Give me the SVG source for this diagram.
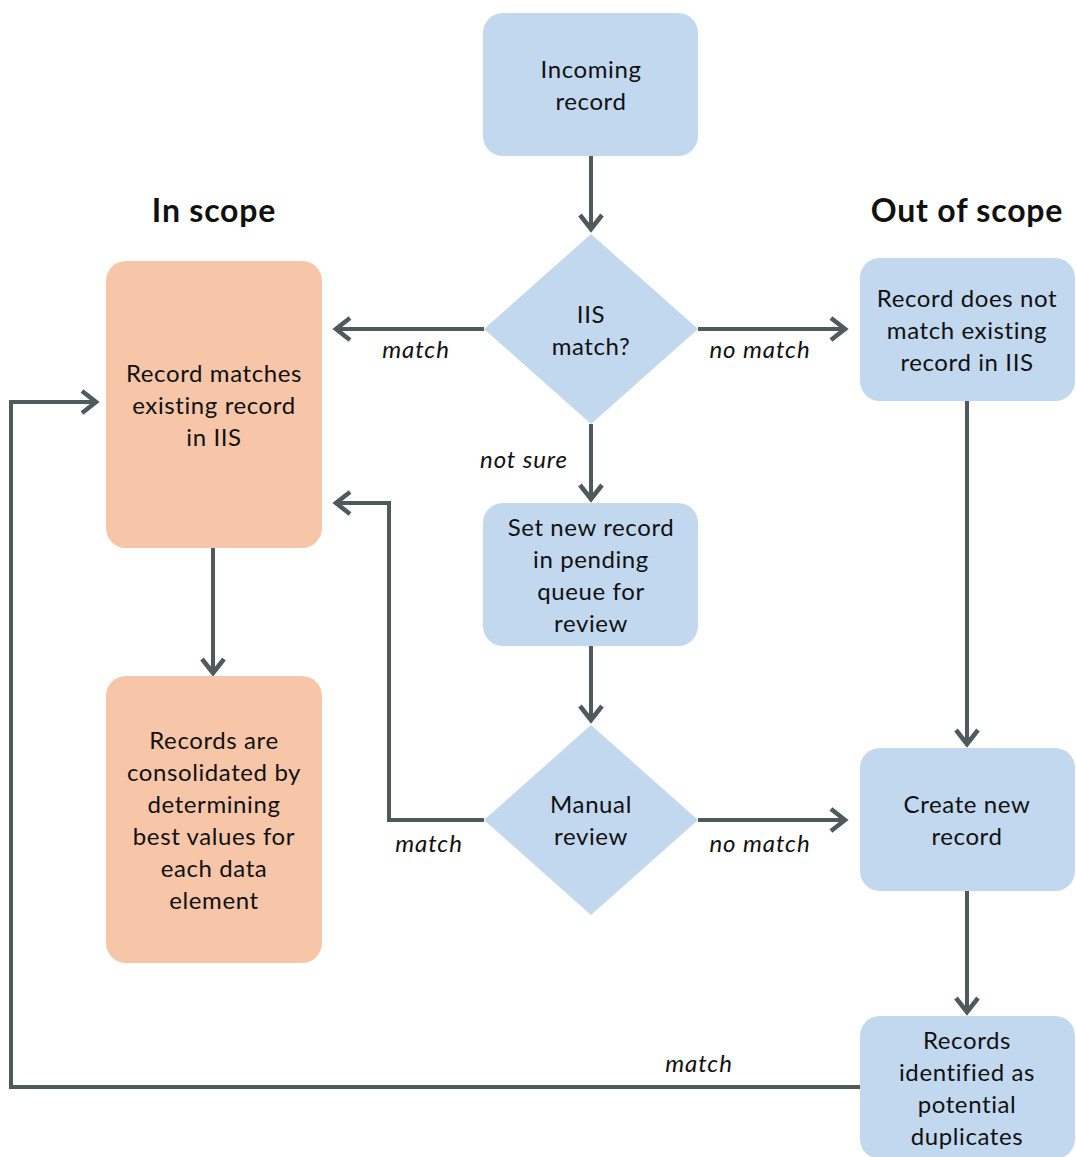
<svg xmlns="http://www.w3.org/2000/svg" width="1076" height="1157" viewBox="0 0 1076 1157">
<style>
.blue{fill:#C2D8EF}
.orange{fill:#F7C6A9}
.t{font-family:Lato,"Noto Sans",sans-serif;font-size:24px;letter-spacing:0.6px;fill:#111;text-anchor:middle}
.h{font-family:Lato,"Noto Sans",sans-serif;font-size:32px;letter-spacing:0.8px;font-weight:bold;fill:#111;text-anchor:middle}
.l{font-family:Lato,"Noto Sans",sans-serif;font-size:24px;letter-spacing:0.9px;font-style:italic;fill:#111;text-anchor:middle}
.c{fill:none;stroke:#4F5A5A;stroke-width:4;marker-end:url(#ah)}
</style>
<defs>
<marker id="ah" markerUnits="userSpaceOnUse" markerWidth="30" markerHeight="30" viewBox="-20 -15 24 30" refX="0" refY="0" orient="auto">
<path d="M-14,-11 L0,0 L-14,11" fill="none" stroke="#4F5A5A" stroke-width="4.5"/>
</marker>
</defs>
<rect width="1076" height="1157" fill="#fff"/>
<text class="h" x="214" y="222">In scope</text>
<text class="h" x="967" y="222">Out of scope</text>
<g id="connectors">
<path class="c" d="M591,156 V229"/>
<path class="c" d="M484,329 H336"/>
<path class="c" d="M698,329 H845"/>
<path class="c" d="M591,424 V499"/>
<path class="c" d="M591,646 V720"/>
<path class="c" d="M213,548 V673"/>
<path class="c" d="M967,401 V744"/>
<path class="c" d="M484,820 H389 V503 H336"/>
<path class="c" d="M698,820 H845"/>
<path class="c" d="M967,891 V1012"/>
<path class="c" d="M860,1087 H11 V402 H96"/>
<text class="l" x="416" y="358">match</text>
<text class="l" x="760" y="358">no match</text>
<text class="l" x="524" y="468">not sure</text>
<text class="l" x="429" y="852">match</text>
<text class="l" x="760" y="852">no match</text>
<text class="l" x="699" y="1072">match</text>
</g>
<g id="incoming">
<rect class="blue" x="483" y="13" width="215" height="143" rx="20"/>
<text class="t" x="591" y="78">Incoming</text>
<text class="t" x="591" y="110">record</text>
</g>
<g id="iis-match">
<polygon class="blue" points="591,234 698,329 591,424 484,329"/>
<text class="t" x="591" y="323">IIS</text>
<text class="t" x="591" y="355">match?</text>
</g>
<g id="record-matches">
<rect class="orange" x="106" y="261" width="216" height="287" rx="20"/>
<text class="t" x="214" y="382">Record matches</text>
<text class="t" x="214" y="414">existing record</text>
<text class="t" x="214" y="446">in IIS</text>
</g>
<g id="record-not-match">
<rect class="blue" x="860" y="258" width="215" height="143" rx="20"/>
<text class="t" x="967" y="307">Record does not</text>
<text class="t" x="967" y="339">match existing</text>
<text class="t" x="967" y="371">record in IIS</text>
</g>
<g id="pending">
<rect class="blue" x="483" y="503" width="215" height="143" rx="20"/>
<text class="t" x="591" y="536">Set new record</text>
<text class="t" x="591" y="568">in pending</text>
<text class="t" x="591" y="600">queue for</text>
<text class="t" x="591" y="632">review</text>
</g>
<g id="manual-review">
<polygon class="blue" points="591,725 698,820 591,915 484,820"/>
<text class="t" x="591" y="813">Manual</text>
<text class="t" x="591" y="845">review</text>
</g>
<g id="consolidated">
<rect class="orange" x="106" y="676" width="216" height="287" rx="20"/>
<text class="t" x="214" y="749">Records are</text>
<text class="t" x="214" y="781">consolidated by</text>
<text class="t" x="214" y="813">determining</text>
<text class="t" x="214" y="845">best values for</text>
<text class="t" x="214" y="877">each data</text>
<text class="t" x="214" y="909">element</text>
</g>
<g id="create-new">
<rect class="blue" x="860" y="748" width="215" height="143" rx="20"/>
<text class="t" x="967" y="813">Create new</text>
<text class="t" x="967" y="845">record</text>
</g>
<g id="duplicates">
<rect class="blue" x="860" y="1016" width="215" height="143" rx="20"/>
<text class="t" x="967" y="1049">Records</text>
<text class="t" x="967" y="1081">identified as</text>
<text class="t" x="967" y="1113">potential</text>
<text class="t" x="967" y="1145">duplicates</text>
</g>
</svg>
